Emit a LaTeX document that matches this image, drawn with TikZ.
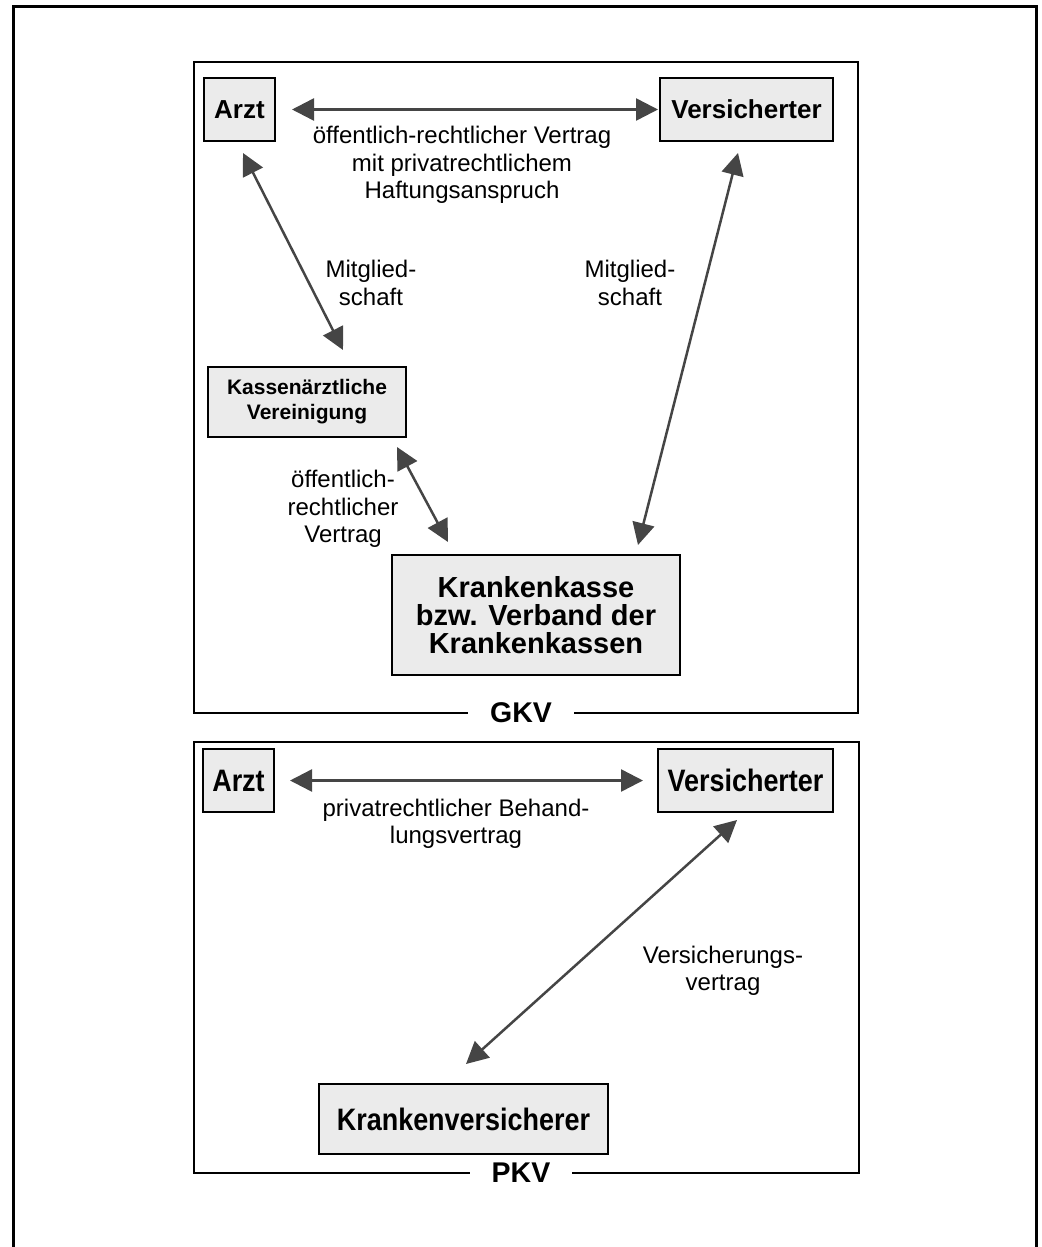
\documentclass[tikz,border=0pt]{standalone}
\usepackage{fontspec}
\setmainfont{Liberation Sans}
\newfontfamily\narrowfont[FakeStretch=0.87]{Liberation Sans}
\usetikzlibrary{arrows.meta}
\definecolor{boxfill}{HTML}{EBEBEB}
\definecolor{arrowgray}{HTML}{454545}
\tikzset{
  nodebox/.style={draw=black, line width=2.5pt, fill=boxfill, inner sep=0pt, outer sep=0pt, align=center},
  gkvnode/.style={nodebox, font=\fontsize{26}{30}\selectfont\bfseries},
  kvnode/.style={nodebox, font=\fontsize{21}{25}\selectfont\bfseries},
  kknode/.style={nodebox, font=\fontsize{29}{28}\selectfont\bfseries},
  pkvnode/.style={nodebox, font=\fontsize{31}{34}\narrowfont\bfseries},
  biarrow/.style={draw=arrowgray, line width=2.5pt, {Triangle[length=22pt,width=22pt]}-{Triangle[length=22pt,width=22pt]}},
  lbl/.style={align=center, inner sep=0pt, font=\fontsize{24}{27.5}\selectfont},
  framebox/.style={draw=black, line width=2.5pt, inner sep=0pt, outer sep=0pt},
  framelabel/.style={fill=white, inner xsep=22pt, inner ysep=2pt, font=\fontsize{28.5}{30}\selectfont\bfseries},
}
\begin{document}
\begin{tikzpicture}[x=1pt, y=-1pt]
\useasboundingbox (0,0) rectangle (1041,1247);
% outer frame (open at the bottom)
\draw[line width=3pt] (13,1247) -- (13,7) -- (1036,7) -- (1036,1247);

% GKV frame
\node[framebox, minimum width=664pt, minimum height=651pt] (gkv) at (526,387.5) {};
\node[framelabel] (gkvlbl) at ([xshift=-5pt]gkv.south) {GKV};

% PKV frame
\node[framebox, minimum width=665pt, minimum height=431pt] (pkv) at (526.5,957.5) {};
\node[framelabel] (pkvlbl) at ([xshift=-5.5pt]pkv.south) {PKV};

% GKV nodes
\node[gkvnode, minimum width=71pt, minimum height=63pt] (a1) at (239.5,109.5) {Arzt};
\node[gkvnode, minimum width=173pt, minimum height=63pt] (v1) at (746.5,109.5) {Versicherter};
\node[kvnode, minimum width=198pt, minimum height=70pt] (kv) at (307,402) {Kassenärztliche\\Vereinigung};
\node[kknode, minimum width=288pt, minimum height=120pt] (k) at (536,615) {Krankenkasse\\bzw. Verband der\\Krankenkassen};

% PKV nodes
\node[pkvnode, minimum width=71pt, minimum height=63pt] (a2) at (238.5,780.5) {Arzt};
\node[pkvnode, minimum width=175pt, minimum height=63pt] (v2) at (745.5,780.5) {Versicherter};
\node[pkvnode, minimum width=289pt, minimum height=70pt] (kv2) at (463.5,1119) {Krankenversicherer};

% GKV connectors
\draw[biarrow] ([xshift=17pt]a1.east) -- ([xshift=-2pt]v1.west);
\draw[biarrow] ([xshift=3.5pt,yshift=-12pt]a1.south) -- ([xshift=36pt,yshift=17pt]kv.north);
\draw[biarrow] ([xshift=90pt,yshift=-10pt]kv.south) -- ([xshift=-88pt,yshift=13pt]k.north);
\draw[biarrow] ([xshift=-8.5pt,yshift=-12pt]v1.south) -- ([xshift=102pt,yshift=10pt]k.north);

% PKV connectors
\draw[biarrow] ([xshift=16pt]a2.east) -- ([xshift=-15pt]v2.west);
\draw[biarrow] ([xshift=-8.5pt,yshift=-8pt]v2.south) -- ([xshift=2.5pt,yshift=20pt]kv2.north);

% labels
\node[lbl] (l1) at (462,165) {öffentlich-rechtlicher Vertrag\\mit privatrechtlichem\\Haftungsanspruch};
\node[lbl] (l2) at (371,283) {Mitglied-\\schaft};
\node[lbl] (l3) at (630,283) {Mitglied-\\schaft};
\node[lbl] (l4) at (343,509) {öffentlich-\\rechtlicher\\Vertrag};
\node[lbl] (l5) at (456,824) {privatrechtlicher Behand-\\lungsvertrag};
\node[lbl] (l6) at (723,971) {Versicherungs-\\vertrag};
\end{tikzpicture}
\end{document}
